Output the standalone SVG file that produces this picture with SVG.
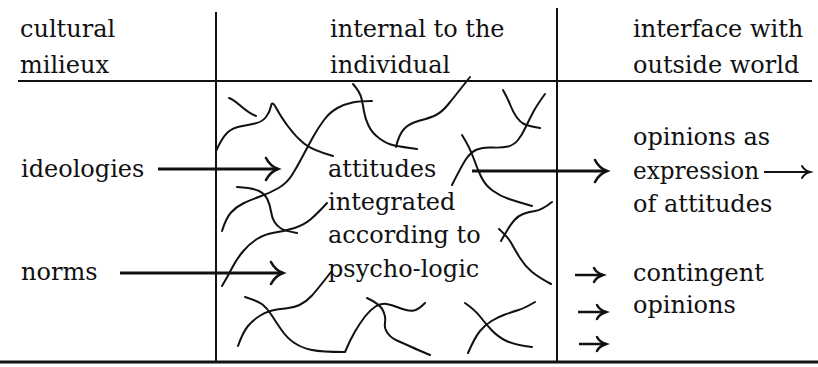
<svg xmlns="http://www.w3.org/2000/svg" width="818" height="367" viewBox="0 0 818 367">
<style>
.t{font-family:"DejaVu Serif","Liberation Serif",serif;font-size:24px;fill:#111}
.rule{stroke:#111;stroke-width:2;fill:none}
.sq{stroke:#111;stroke-width:2;fill:none;stroke-linecap:round;stroke-linejoin:round}
.arr{stroke:#111;stroke-width:3;fill:none}
.arrs{stroke:#111;stroke-width:2.5;fill:none}
.arrt{stroke:#111;stroke-width:1.8;fill:none}
</style>
<defs>
<marker id="big" markerUnits="userSpaceOnUse" markerWidth="30" markerHeight="30" refX="0" refY="0" orient="auto" overflow="visible" viewBox="-15 -15 30 30">
<path d="M-12,-11 C-9,-5 -4,-1.5 0,0 C-4,1.5 -9,5 -12,11" fill="none" stroke="#111" stroke-width="2.6" stroke-linecap="round"/>
</marker>
<marker id="small" markerUnits="userSpaceOnUse" markerWidth="20" markerHeight="20" refX="0" refY="0" orient="auto" overflow="visible" viewBox="-10 -10 20 20">
<path d="M-9,-7 C-7,-3 -3,-1 0,0 C-3,1 -7,3 -9,7" fill="none" stroke="#111" stroke-width="2.5" stroke-linecap="round"/>
</marker>
<marker id="thin" markerUnits="userSpaceOnUse" markerWidth="20" markerHeight="20" refX="0" refY="0" orient="auto" overflow="visible" viewBox="-10 -10 20 20">
<path d="M-8,-6 C-6,-2.5 -3,-0.8 0,0 C-3,0.8 -6,2.5 -8,6" fill="none" stroke="#111" stroke-width="2" stroke-linecap="round"/>
</marker>
</defs>

<g id="frame">
<line class="rule" x1="216" y1="12" x2="216" y2="362"/>
<line class="rule" x1="557" y1="8" x2="557" y2="362"/>
<line class="rule" x1="18" y1="81" x2="812" y2="81"/>
<line class="rule" x1="0" y1="362" x2="818" y2="362" style="stroke-width:3"/>
</g>

<g id="headers">
<text class="t" x="20" y="37">cultural</text>
<text class="t" x="20" y="73">milieux</text>
<text class="t" x="330" y="37">internal to the</text>
<text class="t" x="330" y="73">individual</text>
<text class="t" x="633" y="37">interface with</text>
<text class="t" x="633" y="73">outside world</text>
</g>

<g id="node-ideologies"><text class="t" x="21" y="177">ideologies</text></g>
<g id="node-norms"><text class="t" x="21" y="280">norms</text></g>
<g id="node-attitudes">
<text class="t" x="328" y="177">attitudes</text>
<text class="t" x="328" y="210">integrated</text>
<text class="t" x="328" y="243">according to</text>
<text class="t" x="328" y="277">psycho-logic</text>
</g>
<g id="node-opinions-expression">
<text class="t" x="633" y="145">opinions as</text>
<text class="t" x="633" y="179" textLength="126" lengthAdjust="spacingAndGlyphs">expression</text>
<text class="t" x="633" y="212">of attitudes</text>
</g>
<g id="node-contingent">
<text class="t" x="633" y="281">contingent</text>
<text class="t" x="633" y="313">opinions</text>
</g>

<g id="squiggles">
<path class="sq" d="M229,98 C238,101 244,112 256,116"/>
<path class="sq" d="M216,151 Q222,138 227,133 Q232,128 240,126.5 Q248,125 255,123.5 Q262,122 266,117 Q270,112 271,106 Q272,100 276.5,108.5 Q281,117 288.5,127 Q296,137 304,143.5 Q312,150 333,156"/>
<path class="sq" d="M222,231 Q226,218 231,212.5 Q236,207 243,203.5 Q250,200 260,196.5 Q270,193 278.5,188 Q287,183 292,175 Q297,167 302,157.5 Q307,148 312.5,138 Q318,128 324,120 Q330,112 337.5,108 Q345,104 352.5,102.5 Q360,101 372,101"/>
<path class="sq" d="M353,84 Q360,92 361.5,98.5 Q363,105 364,111.5 Q365,118 368.5,125.5 Q372,133 379.5,138.5 Q387,144 394.5,145.5 Q402,147 417,149"/>
<path class="sq" d="M396,147 Q399,134 404.5,128.5 Q410,123 420,120.5 Q430,118 436,115 Q442,112 448.5,104 Q455,96 470,77"/>
<path class="sq" d="M503,90 Q508,99 510.5,105.5 Q513,112 516.5,117 Q520,122 524,124 Q528,126 540,128"/>
<path class="sq" d="M545,94 Q537,105 533.5,111.5 Q530,118 526,126.5 Q522,135 518,140 Q514,145 508,146.5 Q502,148 492.5,147.5 Q483,147 477,149.5 Q471,152 466.5,158.5 Q462,165 452,185"/>
<path class="sq" d="M462,135 Q470,148 473.5,158 Q477,168 481,176.5 Q485,185 492.5,190.5 Q500,196 509,199 Q518,202 532,206"/>
<path class="sq" d="M552,202 Q542,210 535,211 Q528,212 523,214 Q518,216 514.5,220 Q511,224 508,229 Q505,234 501,241"/>
<path class="sq" d="M499,229 Q508,237 511.5,243.5 Q515,250 520,258 Q525,266 531.5,271.5 Q538,277 551,284"/>
<path class="sq" d="M237,187 Q253,188 259,191 Q265,194 267.5,199.5 Q270,205 271,211.5 Q272,218 274.5,222 Q277,226 281,228.5 Q285,231 297,233"/>
<path class="sq" d="M327,203 Q318,213 311,219 Q304,225 294.5,228 Q285,231 275,232.5 Q265,234 257,239 Q249,244 242.5,252 Q236,260 232,268 Q228,276 222,286"/>
<path class="sq" d="M245,297 Q258,301 262.5,304.5 Q267,308 271.5,315 Q276,322 281.5,330 Q287,338 294.5,343 Q302,348 312,350 Q322,352 344,352"/>
<path class="sq" d="M238,346 Q243,332 248,326 Q253,320 259.5,316 Q266,312 272,310.5 Q278,309 285.5,308.5 Q293,308 299.5,305 Q306,302 311.5,296 Q317,290 331,272"/>
<path class="sq" d="M345,352 Q350,340 355,331.5 Q360,323 365,316.5 Q370,310 375.5,306.5 Q381,303 386.5,304 Q392,305 397,307 Q402,309 406,310 Q410,311 414,310.5 Q418,310 425,303"/>
<path class="sq" d="M367,298 Q380,304 383,310.5 Q386,317 385,322.5 Q384,328 387.5,333 Q391,338 398,341 Q405,344 411.5,347 Q418,350 430,355"/>
<path class="sq" d="M465,303 Q475,310 480,316.5 Q485,323 491.5,330 Q498,337 506.5,341 Q515,345 532,347"/>
<path class="sq" d="M468,353 Q475,337 480,331 Q485,325 491.5,321 Q498,317 505,314.5 Q512,312 518.5,310 Q525,308 535,302"/>
</g>

<g id="connectors">
<line class="arr" x1="158" y1="169" x2="278" y2="169" marker-end="url(#big)"/>
<line class="arr" x1="120" y1="273" x2="283" y2="273" marker-end="url(#big)"/>
<line class="arr" x1="472" y1="171" x2="607" y2="171" marker-end="url(#big)"/>
<line class="arrt" x1="764" y1="172" x2="810" y2="172" marker-end="url(#thin)"/>
<line class="arrs" x1="575" y1="275" x2="603" y2="275" marker-end="url(#small)"/>
<line class="arrs" x1="578" y1="312" x2="606" y2="312" marker-end="url(#small)"/>
<line class="arrs" x1="579" y1="344" x2="606" y2="344" marker-end="url(#small)"/>
</g>
</svg>
